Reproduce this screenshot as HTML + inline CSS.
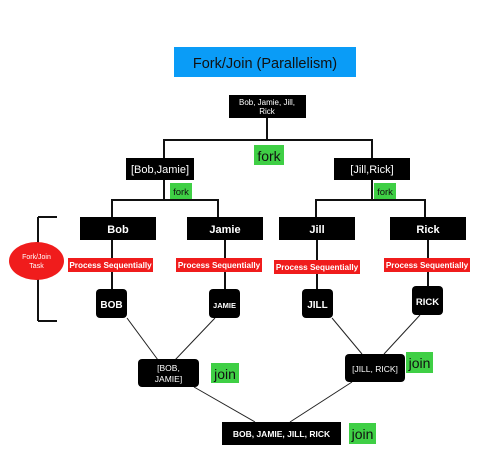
<!DOCTYPE html>
<html><head><meta charset="utf-8"><style>
body{margin:0;background:#fff}
svg{display:block;font-family:"Liberation Sans",Arial,sans-serif}
</style></head><body>
<svg width="488" height="465" viewBox="0 0 488 465" xmlns="http://www.w3.org/2000/svg">
<rect x="174" y="47" width="182" height="30" fill="#0a9cf7"/>
<text x="265" y="68" font-size="14.5" text-anchor="middle" fill="#111">Fork/Join (Parallelism)</text>
<g stroke="#111" stroke-width="2" fill="none">
<path d="M267 118V140M164 158V140H372V158"/>
<path d="M164 180V200M112 217V200H218V217"/>
<path d="M372 180V200M316 217V200H425V217"/>
<path d="M112 240V289M225 240V289M317 240V289M428 240V286"/>
<path d="M38 217V321M38 217H57M38 321H57"/>
</g>
<g stroke="#222" stroke-width="1" fill="none">
<path d="M127 318L158 360M215 318L175 360M332 318L362 354M420 315L384 354M194 387L255 422M352 382L290 422"/>
</g>
<g fill="#000">
<rect x="229" y="95" width="77" height="23"/>
<rect x="126" y="158" width="68" height="22"/>
<rect x="334" y="158" width="76" height="22"/>
<rect x="80" y="217" width="76" height="23"/>
<rect x="187" y="217" width="76" height="23"/>
<rect x="279" y="217" width="76" height="23"/>
<rect x="390" y="217" width="76" height="23"/>
<rect x="96" y="289" width="31" height="29" rx="4"/>
<rect x="209" y="289" width="31" height="29" rx="4"/>
<rect x="302" y="289" width="31" height="29" rx="4"/>
<rect x="412" y="286" width="31" height="29" rx="4"/>
<rect x="138" y="359" width="61" height="28" rx="4"/>
<rect x="345" y="354" width="60" height="28" rx="4"/>
<rect x="222" y="422" width="119" height="23"/>
</g>
<g fill="#3fcf45">
<rect x="254" y="145" width="30" height="20"/>
<rect x="170" y="183" width="22" height="16"/>
<rect x="374" y="183" width="22" height="16"/>
<rect x="211" y="363" width="28" height="20"/>
<rect x="406" y="352" width="27" height="21"/>
<rect x="349" y="423" width="27" height="21"/>
</g>
<g fill="#f01c1c">
<rect x="68" y="258" width="85" height="14"/>
<rect x="176" y="258" width="86" height="14"/>
<rect x="274" y="260" width="86" height="14"/>
<rect x="384" y="258" width="86" height="14"/>
<ellipse cx="36.5" cy="261" rx="27.5" ry="19"/>
</g>
<g fill="#fff" text-anchor="middle" font-size="8">
<text x="267" y="105">Bob, Jamie, Jill,</text>
<text x="267" y="114">Rick</text>
<text x="36.5" y="259" font-size="7">Fork/Join</text>
<text x="36.5" y="268" font-size="7">Task</text>
<g font-weight="bold" font-size="8.2">
<text x="110.5" y="268">Process Sequentially</text>
<text x="219" y="268">Process Sequentially</text>
<text x="317" y="270">Process Sequentially</text>
<text x="427" y="268">Process Sequentially</text>
</g>
</g>
<g fill="#fff" text-anchor="middle" font-size="11">
<text x="160" y="173">[Bob,Jamie]</text>
<text x="372" y="173">[Jill,Rick]</text>
<text x="118" y="233" font-weight="bold">Bob</text>
<text x="225" y="233" font-weight="bold">Jamie</text>
<text x="317" y="233" font-weight="bold">Jill</text>
<text x="428" y="233" font-weight="bold">Rick</text>
<text x="111.5" y="308" font-weight="bold" font-size="10">BOB</text>
<text x="224.5" y="308" font-weight="bold" font-size="7.5">JAMIE</text>
<text x="317.5" y="308" font-weight="bold" font-size="10">JILL</text>
<text x="427.5" y="305" font-weight="bold" font-size="9.5">RICK</text>
<text x="168.5" y="371" font-size="8.5">[BOB,</text>
<text x="168.5" y="382" font-size="8.5">JAMIE]</text>
<text x="375" y="372" font-size="8.5">[JILL, RICK]</text>
<text x="281.5" y="437" font-size="8.5" font-weight="bold">BOB, JAMIE, JILL, RICK</text>
</g>
<g fill="#111" text-anchor="middle">
<text x="269" y="161" font-size="14">fork</text>
<text x="181" y="195" font-size="9.5">fork</text>
<text x="385" y="195" font-size="9.5">fork</text>
<text x="225" y="379" font-size="14">join</text>
<text x="419.5" y="368" font-size="14">join</text>
<text x="362.5" y="439" font-size="14">join</text>
</g>
</svg>
</body></html>
